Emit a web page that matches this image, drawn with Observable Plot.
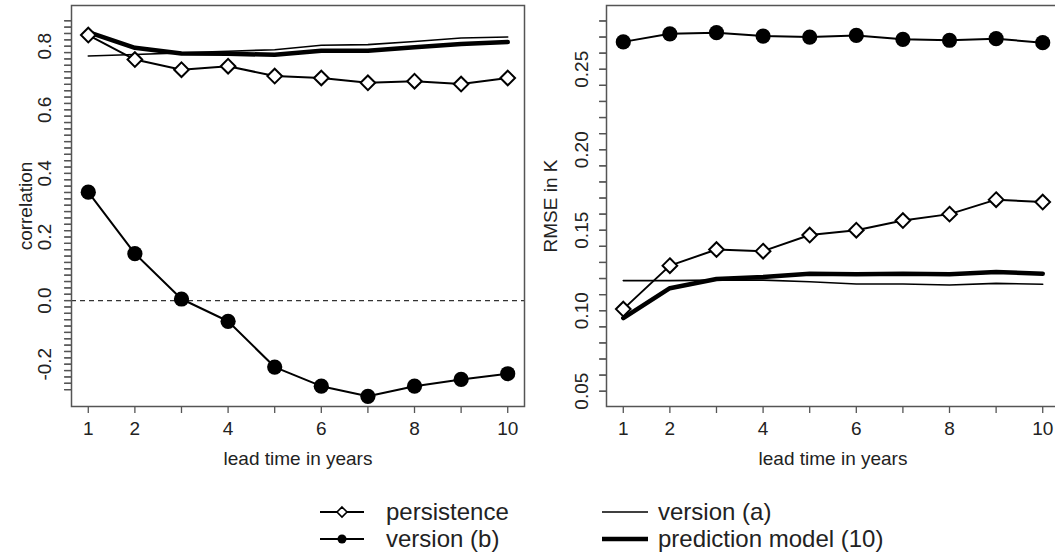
<!DOCTYPE html>
<html><head><meta charset="utf-8">
<script src="https://cdn.jsdelivr.net/npm/d3@7"></script>
<script src="https://cdn.jsdelivr.net/npm/@observablehq/plot@0.6"></script>
<style>
body{margin:0;background:#fff;width:1055px;height:556px;overflow:hidden;position:relative;font-family:"Liberation Sans",Arial,sans-serif;color:#222}
#left,#right,#legend{position:absolute;overflow:visible}
#left{left:0;top:0;width:530px;height:480px}
#right{left:530px;top:0;width:530px;height:480px}
#legend{left:0;top:480px;width:1055px;height:76px}
svg{max-width:none !important}
</style></head><body>
<div id="left"></div><div id="right"></div><div id="legend"></div>
<script>
// ---- data ----
const leadTime = [1, 2, 3, 4, 5, 6, 7, 8, 9, 10];
const xTickLabels = [1, 2, 4, 6, 8, 10];

const corrPersistence = [0.835, 0.758, 0.726, 0.737, 0.706, 0.700, 0.685, 0.690, 0.681, 0.700];
const corrVersionB    = [0.341, 0.148, 0.005, -0.065, -0.209, -0.269, -0.301, -0.269, -0.248, -0.230];
const corrVersionA    = [0.769, 0.774, 0.779, 0.784, 0.789, 0.803, 0.805, 0.815, 0.826, 0.829];
const corrModel       = [0.844, 0.795, 0.777, 0.776, 0.773, 0.786, 0.786, 0.797, 0.807, 0.813];

const rmsePersistence = [0.101, 0.128, 0.138, 0.137, 0.147, 0.150, 0.156, 0.160, 0.169, 0.1675];
const rmseVersionB    = [0.267, 0.272, 0.2727, 0.2706, 0.270, 0.271, 0.2686, 0.268, 0.269, 0.2665];
const rmseVersionA    = [0.1187, 0.1187, 0.119, 0.119, 0.118, 0.1166, 0.1166, 0.116, 0.117, 0.1164];
const rmseModel       = [0.0954, 0.114, 0.1197, 0.121, 0.123, 0.1226, 0.123, 0.1226, 0.124, 0.123];

const corrTickLabels = [-0.2, 0.0, 0.2, 0.4, 0.6, 0.8];
const rmseTickLabels = [0.05, 0.10, 0.15, 0.20, 0.25];
const corrMinorTicks = d3.range(-28, 89, 2).map(d => d / 100);
const rmseMinorTicks = d3.range(5, 29, 1).map(d => d / 100);

const legendItems = [
  {label: "persistence", kind: "diamond"},
  {label: "version (b)", kind: "circle"},
  {label: "version (a)", kind: "thin"},
  {label: "prediction model (10)", kind: "thick"}
];

// ---- chart ----
const rows = vals => leadTime.map((t, i) => ({t, v: vals[i]}));
// short horizontal tick pointing left from the frame edge
const leftTick = {draw(ctx) { ctx.moveTo(-7, 0); ctx.lineTo(0, 0); }};

function panel(o) {
  return Plot.plot({
    width: 530, height: 480,
    marginLeft: o.marginLeft, marginRight: o.marginRight, marginTop: 5, marginBottom: 74,
    x: {domain: [0.64, 10.36]},
    y: {domain: o.yDomain},
    style: {fontFamily: "'Liberation Sans', Arial, sans-serif", fontSize: "19px", color: "#222", background: "white", overflow: "visible", maxWidth: "none"},
    marks: [
      Plot.axisX({ticks: leadTime, tickSize: 7, tickPadding: 8, stroke: "#555", strokeWidth: 1.3,
        tickFormat: d => xTickLabels.includes(d) ? String(d) : "", fontSize: 19, label: null}),
      Plot.axisY({ticks: o.minor, tickSize: 7, stroke: "#555", strokeWidth: 1.3, tickFormat: () => "", label: null}),
      Plot.dot(o.minor, {y: d => d, frameAnchor: "left", symbol: leftTick, r: 3, stroke: "#555", strokeWidth: 1.3, fill: "none"}),
      Plot.text(o.labels, {y: d => d, text: o.fmt, frameAnchor: "left", textAnchor: "middle", dx: o.labelDx, rotate: -90, fontSize: 19, fill: "#222"}),
      Plot.text([o.yTitle], {frameAnchor: "left", textAnchor: "middle", dx: o.titleDx, rotate: -90, fontSize: 19, fill: "#222"}),
      Plot.text(["lead time in years"], {frameAnchor: "bottom", dy: 58, fontSize: 19, fill: "#222"}),
      o.zero ? Plot.ruleY([0], {stroke: "#333", strokeWidth: 1.2, strokeDasharray: "5,4"}) : null,
      Plot.line(rows(o.model), {x: "t", y: "v", stroke: "black", strokeWidth: 4.5}),
      Plot.line(rows(o.versionA), {x: "t", y: "v", stroke: "black", strokeWidth: 1.6}),
      Plot.line(rows(o.persistence), {x: "t", y: "v", stroke: "black", strokeWidth: 2}),
      Plot.dot(rows(o.persistence), {x: "t", y: "v", symbol: "diamond2", r: 6.6, fill: "white", stroke: "black", strokeWidth: 2}),
      Plot.line(rows(o.versionB), {x: "t", y: "v", stroke: "black", strokeWidth: 2}),
      Plot.dot(rows(o.versionB), {x: "t", y: "v", r: 7.6, fill: "black", stroke: "none"}),
      Plot.frame({stroke: "#555", strokeWidth: 1.5})
    ]
  });
}

document.getElementById("left").append(panel({
  marginLeft: 71, marginRight: 6, yDomain: [-0.333, 0.928],
  minor: corrMinorTicks, labels: corrTickLabels, fmt: d => d.toFixed(1),
  labelDx: -27, titleDx: -46, yTitle: "correlation", zero: true,
  persistence: corrPersistence, versionB: corrVersionB, versionA: corrVersionA, model: corrModel
}));

document.getElementById("right").append(panel({
  marginLeft: 76, marginRight: 1, yDomain: [0.0405, 0.2896],
  minor: rmseMinorTicks, labels: rmseTickLabels, fmt: d => d.toFixed(2),
  labelDx: -25, titleDx: -56, yTitle: "RMSE in K", zero: false,
  persistence: rmsePersistence, versionB: rmseVersionB, versionA: rmseVersionA, model: rmseModel
}));

// ---- legend ----
const svg = d3.select("#legend").append("svg").attr("width", 1055).attr("height", 76)
  .style("font-family", "'Liberation Sans', Arial, sans-serif");
const pos = [
  {x0: 320, x1: 364, tx: 386, y: 32},
  {x0: 320, x1: 364, tx: 386, y: 59},
  {x0: 602, x1: 648, tx: 658, y: 32},
  {x0: 602, x1: 648, tx: 658, y: 59}
];
legendItems.forEach((it, i) => {
  const p = pos[i];
  const g = svg.append("g");
  g.append("line").attr("x1", p.x0).attr("x2", p.x1).attr("y1", p.y).attr("y2", p.y)
    .attr("stroke", "black").attr("stroke-width", it.kind === "thick" ? 4.5 : (it.kind === "thin" ? 1.6 : 2));
  const cx = (p.x0 + p.x1) / 2;
  if (it.kind === "diamond") {
    g.append("path").attr("d", `M${cx},${p.y - 5}L${cx + 5},${p.y}L${cx},${p.y + 5}L${cx - 5},${p.y}Z`)
      .attr("fill", "white").attr("stroke", "black").attr("stroke-width", 1.6);
  } else if (it.kind === "circle") {
    g.append("circle").attr("cx", cx).attr("cy", p.y).attr("r", 4.5).attr("fill", "black");
  }
  g.append("text").attr("x", p.tx).attr("y", p.y).attr("dy", "0.35em")
    .attr("font-size", 24).attr("fill", "#222").text(it.label);
});
</script>
</body></html>
